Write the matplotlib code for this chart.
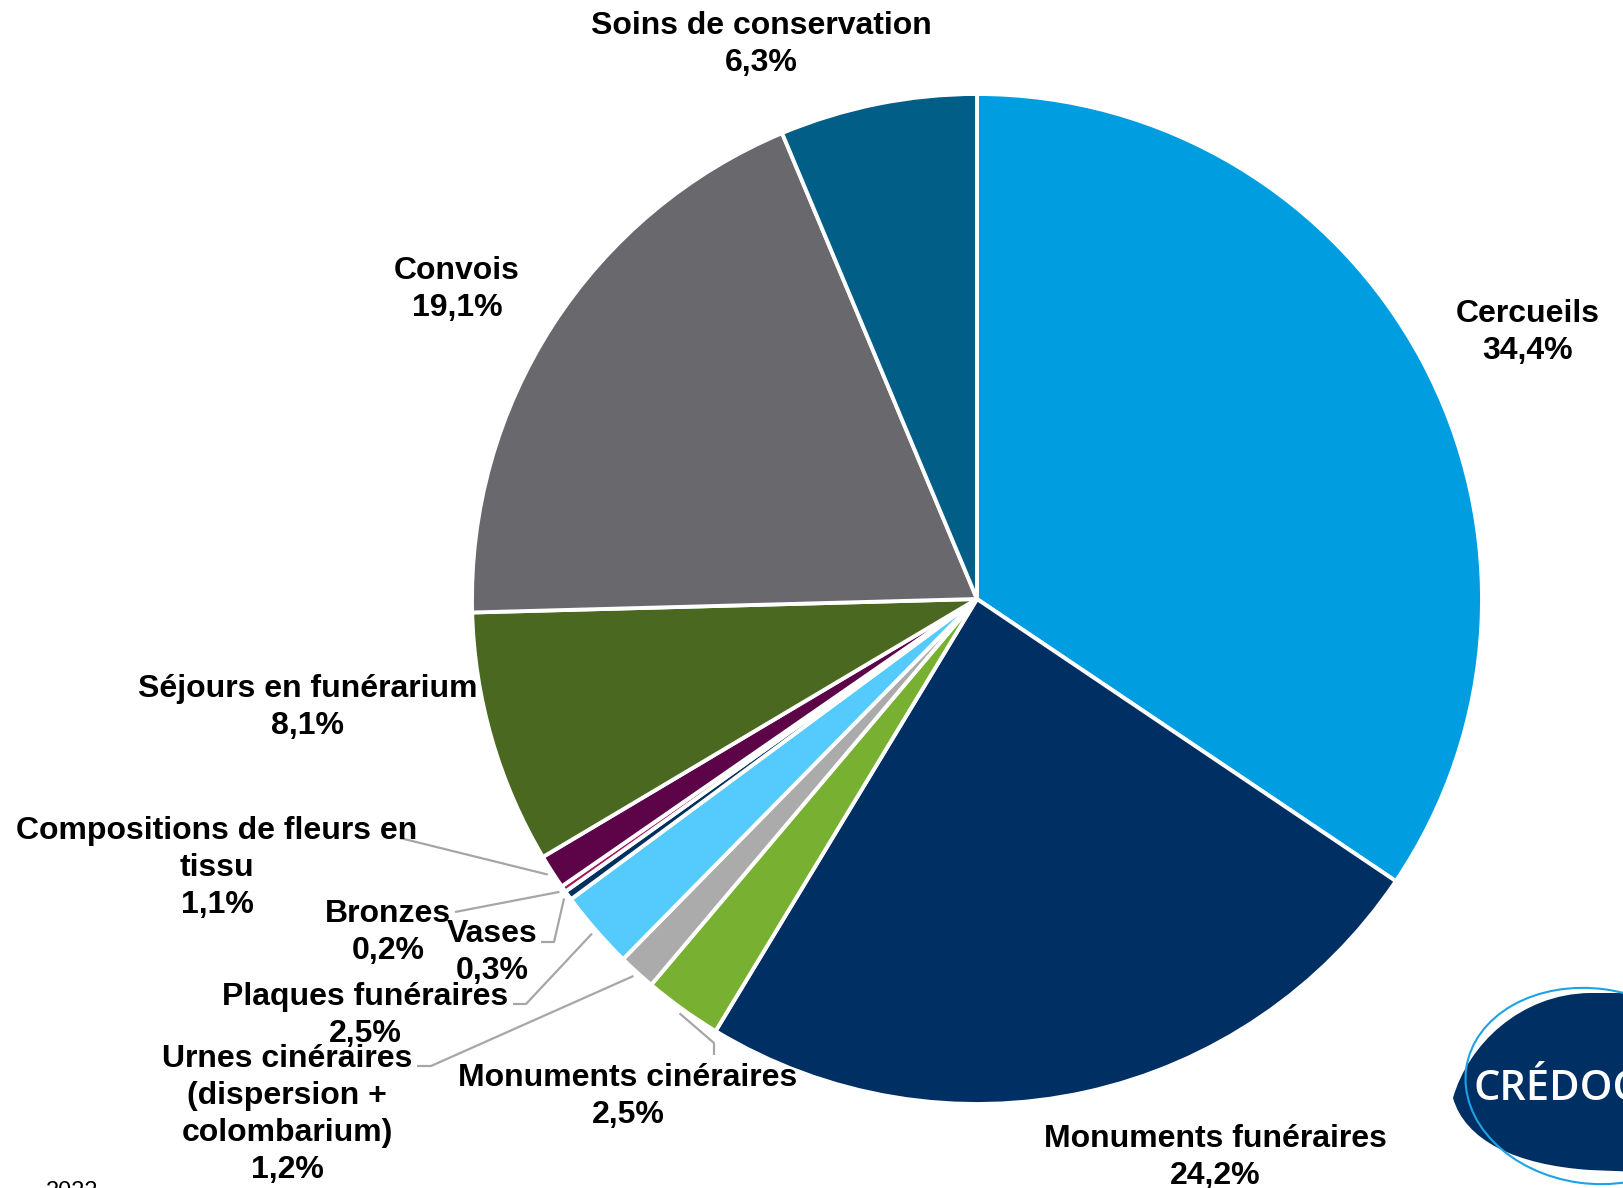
import matplotlib
matplotlib.use("Agg")
import matplotlib.pyplot as plt
import numpy as np
from matplotlib.path import Path
from matplotlib.patches import PathPatch, Ellipse

plt.rcParams['font.family'] = ['Liberation Sans', 'DejaVu Sans']

# ---- data (clockwise from 12 o'clock) ----
categories = ["Cercueils", "Monuments funéraires", "Monuments cinéraires",
              "Urnes cinéraires\n(dispersion +\ncolombarium)", "Plaques funéraires",
              "Vases", "Bronzes", "Compositions de fleurs en\ntissu",
              "Séjours en funérarium", "Convois", "Soins de conservation"]
values = [34.4, 24.2, 2.5, 1.2, 2.5, 0.3, 0.2, 1.1, 8.1, 19.1, 6.3]
value_labels = ["34,4%", "24,2%", "2,5%", "1,2%", "2,5%", "0,3%", "0,2%",
                "1,1%", "8,1%", "19,1%", "6,3%"]
colors = ["#009EE0", "#003063", "#78B031", "#ABABAB", "#55CBFD", "#00305F",
          "#A3195B", "#5D0449", "#4A681F", "#69686D", "#005E87"]

W, H = 1624, 1188
fig = plt.figure(figsize=(W / 100, H / 100), dpi=100)
ax = fig.add_axes([0, 0, 1, 1])


def Y(y):
    return H - y


cx, cy, R = 977, 599, 505
ax.pie(values, colors=colors, startangle=90, counterclock=False,
       center=(cx, Y(cy)), radius=R, frame=True,
       wedgeprops=dict(edgecolor='white', linewidth=2.8))
ax.set_xlim(0, W)
ax.set_ylim(0, H)
ax.set_aspect('equal')
ax.axis('off')

# label positions (layout, image coordinates: centre x, first-line centre y)
label_pos = [(1528, 311), (1215, 1136), (628, 1075), (287, 1056), (365, 994),
             (492, 931), (388, 911), (217, 828), (308, 686), (457, 268), (761, 23)]
fs = 23
for cat, vl, (x, y) in zip(categories, value_labels, label_pos):
    ax.text(x, Y(y - 12), f"{cat}\n{vl}", ha='center', va='top', fontsize=fs,
            fontweight='bold', color='black', linespacing=1.3)

# leader lines: start at wedge mid angle (from data), go to label anchors
cum = np.cumsum([0] + values[:-1])
total = sum(values)
mid_angles = [np.deg2rad(90 - (c + v / 2) / total * 360) for c, v in zip(cum, values)]
leaders = {
    2: [(714, 1043), (714, 1055)],
    3: [(431, 1066), (417, 1066)],
    4: [(526, 1004), (513, 1004)],
    5: [(554, 942), (541, 942)],
    6: [(455, 912)],
    7: [(400, 838)],
}
for i, pts in leaders.items():
    a = mid_angles[i]
    sx = cx + R * 1.01 * np.cos(a)
    sy = Y(cy) + R * 1.01 * np.sin(a)
    xs = [sx] + [p[0] for p in pts]
    ys = [sy] + [Y(p[1]) for p in pts]
    ax.plot(xs, ys, color='#A6A6A6', lw=1.6, solid_capstyle='butt')

# CRÉDOC logo (bottom-right, partially cropped)
verts = [(1453, Y(1098)),
         (1468, Y(1045)), (1520, Y(994)), (1590, Y(993)),
         (1640, Y(993)),
         (1640, Y(1172)),
         (1590, Y(1170)),
         (1515, Y(1165)), (1465, Y(1140)), (1453, Y(1098)),
         (1453, Y(1098))]
codes = [Path.MOVETO, Path.CURVE4, Path.CURVE4, Path.CURVE4, Path.LINETO,
         Path.LINETO, Path.LINETO, Path.CURVE4, Path.CURVE4, Path.CURVE4,
         Path.CLOSEPOLY]
ax.add_patch(PathPatch(Path(verts, codes), facecolor='#003063', edgecolor='none'))
ax.add_patch(Ellipse((1592, Y(1086)), 254, 195, angle=-8, fill=False,
                     edgecolor='#1BA3E6', lw=1.5))
ax.text(1474, Y(1100), "CRÉDOC", color='white', fontsize=30, fontweight='semibold',
        family=['Open Sans', 'DejaVu Sans'], ha='left', va='baseline')

# cropped footnote (cut off at the bottom edge, as in the reference)
ax.text(46, Y(1181), "2022", fontsize=17, ha='left', va='top', color='black')

fig.savefig("out.png", dpi=100)
